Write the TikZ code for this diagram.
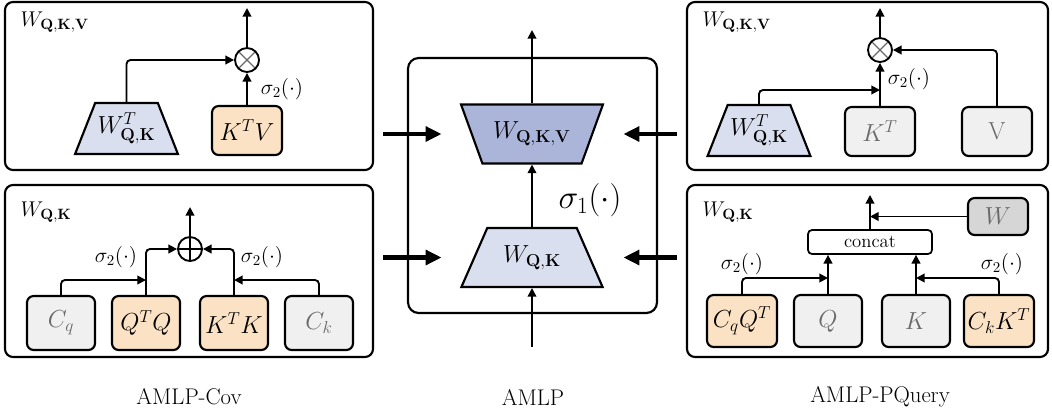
\RequirePackage{fix-cm}
\documentclass[tikz,border=0pt]{standalone}
\usepackage{amsmath}
\usepackage{amssymb}
\usepackage{tikz}
\usetikzlibrary{arrows.meta}
\usetikzlibrary{shapes.geometric}

\definecolor{trapLight}{HTML}{DADFF0}
\definecolor{trapDark}{HTML}{ABB5D9}
\definecolor{peach}{HTML}{FBE2C4}
\definecolor{greyFill}{HTML}{F0F0F0}
\definecolor{greyText}{HTML}{6A6A6A}
\definecolor{wFill}{HTML}{D6D6D6}

\begin{document}
\begin{tikzpicture}[x=0.75pt,y=-0.75pt]
  \tikzset{panel/.style = {draw, rounded corners=6pt, line width=1.6pt, inner sep=0pt}}
  \tikzset{opbox/.style = {draw, rounded corners=5pt, line width=1.6pt, inner sep=0pt,
      font=\fontsize{18.5}{20}\selectfont}}
  \tikzset{peachbox/.style = {opbox, fill=peach}}
  \tikzset{greybox/.style = {opbox, fill=greyFill, text=greyText}}
  \tikzset{trap/.style = {trapezium, draw, line width=1.6pt, trapezium stretches=true,
      inner sep=0pt, font=\fontsize{18.5}{20}\selectfont}}
  \tikzset{bigtrap/.style = {trap, minimum width=106.5pt, minimum height=44.25pt,
      trapezium left angle=55, trapezium right angle=55}}
  \tikzset{smalltrap/.style = {trap, fill=trapLight, minimum width=77.25pt, minimum height=38.25pt,
      trapezium left angle=59, trapezium right angle=59}}
  \tikzset{mulop/.style = {circle, draw, line width=1.4pt, minimum size=18pt, inner sep=0pt, fill=white,
      path picture={\draw[greyText, line width=1pt]
        (path picture bounding box.north west) -- (path picture bounding box.south east)
        (path picture bounding box.north east) -- (path picture bounding box.south west);}}}
  \tikzset{addop/.style = {circle, draw, line width=1.4pt, minimum size=18pt, inner sep=0pt, fill=white,
      path picture={\draw[line width=2pt]
        (path picture bounding box.north) -- (path picture bounding box.south)
        (path picture bounding box.east) -- (path picture bounding box.west);}}}
  \tikzset{arr/.style = {-{Triangle[length=6.5pt,width=6.5pt]}, line width=1.4pt, rounded corners=3pt}}
  \tikzset{fat/.style = {-{Triangle[length=12pt,width=11pt]}, line width=3.5pt}}
  \tikzset{lbl/.style = {anchor=west, font=\fontsize{16}{18}\selectfont}}
  \tikzset{act/.style = {font=\fontsize{16}{18}\selectfont}}
  \tikzset{captext/.style = {font=\fontsize{17}{19}\selectfont}}

  \useasboundingbox (0,0) rectangle (1052,415);

  % panels
  \node[panel, minimum width=276pt, minimum height=126pt] (covTop) at (189,86) {};
  \node[panel, minimum width=276pt, minimum height=129pt] (covBot) at (189,271) {};
  \node[panel, minimum width=270.75pt, minimum height=126pt] (pqTop) at (867.5,86) {};
  \node[panel, minimum width=270.75pt, minimum height=129pt] (pqBot) at (867.5,271) {};
  \node[panel, rounded corners=8pt, minimum width=186.75pt, minimum height=191.25pt] (amlp) at (532.5,185.5) {};

  % AMLP
  \node[bigtrap, fill=trapLight] (amlpQK) at (532,257.5) {$W_{\mathbf{Q,K}}$};
  \node[bigtrap, fill=trapDark, shape border rotate=180] (amlpQKV) at (532,134) {$W_{\mathbf{Q,K,V}}$};
  \coordinate (amlpIn) at (532,347);
  \coordinate (amlpOut) at (532,30);
  \node[font=\fontsize{25}{28}\selectfont] (sigOne) at (590,200) {$\sigma_1(\cdot)$};
  \draw[arr] (amlpIn) -- (amlpQK.bottom side);
  \draw[arr] (amlpQK.top side) -- (amlpQKV.top side);
  \draw[arr] (amlpQKV.bottom side) -- (amlpOut);

  \draw[fat] ([xshift=6.75pt]covTop.east |- amlpQKV) -- ([xshift=26pt]amlp.west |- amlpQKV);
  \draw[fat] ([xshift=6.75pt]covBot.east |- amlpQK) -- ([xshift=26pt]amlp.west |- amlpQK);
  \draw[fat] ([xshift=-6.75pt]pqTop.west |- amlpQKV) -- ([xshift=-26pt]amlp.east |- amlpQKV);
  \draw[fat] ([xshift=-6.75pt]pqBot.west |- amlpQK) -- ([xshift=-26pt]amlp.east |- amlpQK);

  % AMLP-Cov, top
  \node[lbl] (covTopLbl) at (16,22) {$W_{\mathbf{Q,K,V}}$};
  \node[smalltrap] (covWT) at (126.5,128.5) {$W^{T}_{\mathbf{Q,K}}$};
  \node[peachbox, minimum width=52.5pt, minimum height=36.75pt] (covKV) at (247,130.5) {$K^{T}V$};
  \node[mulop] (covMul) at (247,60) {};
  \coordinate (covTopOut) at (247,8);
  \node[act] (covSigA) at (282,89) {$\sigma_2(\cdot)$};
  \draw[arr] (covWT.top side) |- (covMul.west);
  \draw[arr] (covKV.north) -- (covMul.south);
  \draw[arr] (covMul.north) -- (covTopOut);

  % AMLP-Cov, bottom
  \node[lbl] (covBotLbl) at (16,212) {$W_{\mathbf{Q,K}}$};
  \node[greybox, minimum width=51pt, minimum height=40.5pt] (covCq) at (61,323) {$C_q$};
  \node[peachbox, minimum width=51pt, minimum height=40.5pt] (covQQ) at (146,323) {$Q^{T}Q$};
  \node[peachbox, minimum width=51pt, minimum height=40.5pt] (covKK) at (234,323) {$K^{T}K$};
  \node[greybox, minimum width=51pt, minimum height=40.5pt] (covCk) at (319,323) {$C_k$};
  \node[addop] (covAdd) at (190,249) {};
  \coordinate (covBotOut) at (190,207);
  \coordinate (covJoinL) at (146,280);
  \coordinate (covJoinR) at (234,280);
  \node[act] (covSigB) at (116,257) {$\sigma_2(\cdot)$};
  \node[act] (covSigC) at (262,257) {$\sigma_2(\cdot)$};
  \draw[arr] (covCq.north) |- (covJoinL);
  \draw[arr] (covCk.north) |- (covJoinR);
  \draw[arr] (covQQ.north) |- (covAdd.west);
  \draw[arr] (covKK.north) |- (covAdd.east);
  \draw[arr] (covAdd.north) -- (covBotOut);

  % AMLP-PQuery, top
  \node[lbl] (pqTopLbl) at (698,22) {$W_{\mathbf{Q,K,V}}$};
  \node[smalltrap] (pqWT) at (759,130.5) {$W^{T}_{\mathbf{Q,K}}$};
  \node[greybox, minimum width=52.5pt, minimum height=36.75pt] (pqKT) at (880,131.5) {$K^{T}$};
  \node[greybox, minimum width=52.5pt, minimum height=36.75pt] (pqV) at (997,131.5) {V};
  \node[mulop] (pqMul) at (880,50) {};
  \coordinate (pqTopOut) at (880,8);
  \coordinate (pqJoin) at (880,90);
  \node[act] (pqSigA) at (909,79) {$\sigma_2(\cdot)$};
  \draw[arr] (pqWT.top side) |- (pqJoin);
  \draw[arr] (pqKT.north) -- (pqMul.south);
  \draw[arr] (pqV.north) |- (pqMul.east);
  \draw[arr] (pqMul.north) -- (pqTopOut);

  % AMLP-PQuery, bottom
  \node[lbl] (pqBotLbl) at (698,212) {$W_{\mathbf{Q,K}}$};
  \node[peachbox, minimum width=52.5pt, minimum height=39pt] (pqCQ) at (742,321) {$C_qQ^{T}$};
  \node[greybox, minimum width=51pt, minimum height=39pt] (pqQ) at (828,321) {$Q$};
  \node[greybox, minimum width=51pt, minimum height=39pt] (pqK) at (916,321) {$K$};
  \node[peachbox, minimum width=52.5pt, minimum height=39pt] (pqCK) at (999,321) {$C_kK^{T}$};
  \node[opbox, rounded corners=3pt, line width=1.3pt, minimum width=93pt, minimum height=18pt,
    font=\fontsize{14}{16}\selectfont] (concat) at (870,242) {concat};
  \node[opbox, fill=wFill, text=greyText, minimum width=45pt, minimum height=27.75pt] (pqW) at (998,216.5) {$W$};
  \coordinate (pqBotOut) at (870,195);
  \coordinate (pqJoinL) at (828,278);
  \coordinate (pqJoinR) at (916,278);
  \node[act] (pqSigB) at (742,264) {$\sigma_2(\cdot)$};
  \node[act] (pqSigC) at (1002,264) {$\sigma_2(\cdot)$};
  \draw[arr] (pqCQ.north) |- (pqJoinL);
  \draw[arr] (pqCK.north) |- (pqJoinR);
  \draw[arr] (pqQ.north) -- (pqQ.north |- concat.south);
  \draw[arr] (pqK.north) -- (pqK.north |- concat.south);
  \draw[arr] (concat.north) -- (pqBotOut);
  \draw[arr] (pqW.west) -- (pqW.west -| concat.north);

  % captions
  \node[captext] (capCov) at (189,397) {AMLP-Cov};
  \node[captext] (capAmlp) at (533,397) {AMLP};
  \node[captext] (capPq) at (880,397) {AMLP-PQuery};
\end{tikzpicture}
\end{document}
